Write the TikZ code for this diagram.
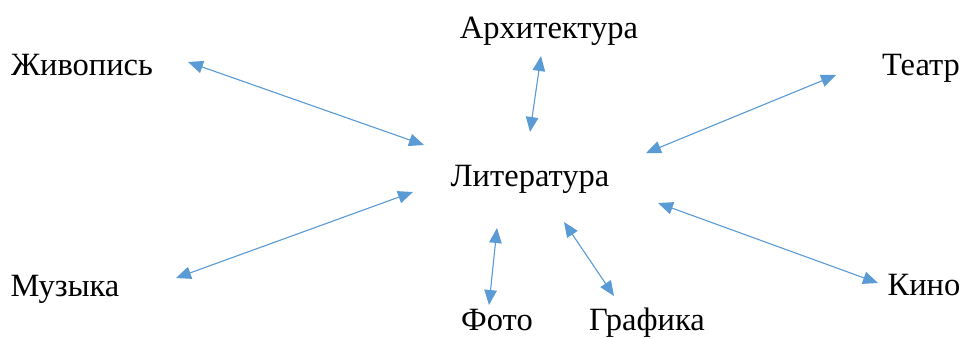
\documentclass[tikz,border=0pt]{standalone}
\usepackage{fontspec}
\setmainfont{Liberation Serif}
\usetikzlibrary{arrows.meta}
\definecolor{arr}{HTML}{5B9BD5}
\begin{document}
\begin{tikzpicture}[x=1pt,y=-1pt,
  lbl/.style={inner sep=0pt,anchor=base,font=\fontsize{32.5}{34}\selectfont},
  link/.style={draw=arr,line width=1.1pt,{Triangle[length=15pt,width=12.5pt]}-{Triangle[length=15pt,width=12.5pt]}, fill=arr}]
\useasboundingbox (0,0) rectangle (961,338);
\node[lbl] (arch) at (549,38) {Архитектура};
\node[lbl] (zhiv) at (82,75) {Живопись};
\node[lbl] (teatr) at (921,75) {Театр};
\node[lbl] (lit) at (530,186) {Литература};
\node[lbl] (muz) at (65,296) {Музыка};
\node[lbl] (kino) at (924,295) {Кино};
\node[lbl] (foto) at (497,330) {Фото};
\node[lbl] (graf) at (647,330) {Графика};
\coordinate (z1) at (188,62); \coordinate (z2) at (424,145);
\coordinate (a1) at (541,56); \coordinate (a2) at (530,132);
\coordinate (t1) at (836,75); \coordinate (t2) at (646,153);
\coordinate (m1) at (413,192); \coordinate (m2) at (176,278);
\coordinate (k1) at (658,203); \coordinate (k2) at (878,283);
\coordinate (f1) at (497,228); \coordinate (f2) at (489,305);
\coordinate (g1) at (564,222); \coordinate (g2) at (614,296);
\draw[link] (z1) -- (z2);
\draw[link] (a1) -- (a2);
\draw[link] (t1) -- (t2);
\draw[link] (m1) -- (m2);
\draw[link] (k1) -- (k2);
\draw[link] (f1) -- (f2);
\draw[link] (g1) -- (g2);
\end{tikzpicture}
\end{document}
